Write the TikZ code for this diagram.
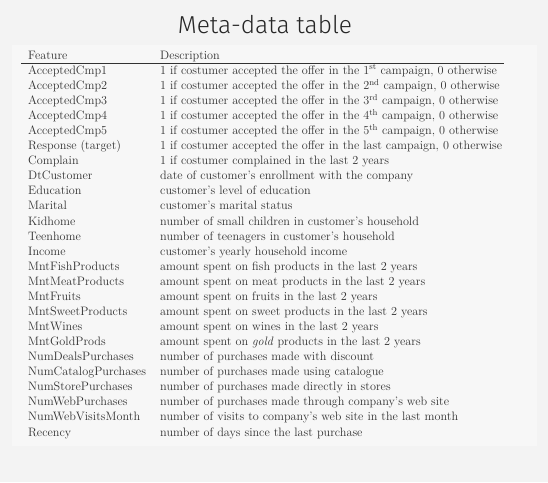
\documentclass[tikz,border=0pt]{standalone}
\usepackage{fontspec}
\newfontfamily\titlefont{Fira Sans Light}
\usepackage{tikz}
\usetikzlibrary{positioning}

\definecolor{slidebg}{RGB}{243,243,243}
\definecolor{tablebg}{RGB}{247,247,247}
\definecolor{ink}{RGB}{50,50,50}

\tikzset{
  feat/.style={anchor=base west, inner sep=0pt, text=ink, font=\fontsize{12.2}{15}\selectfont},
  desc/.style={feat},
}

\begin{document}
\begin{tikzpicture}[x=1pt, y=-1pt]
  \useasboundingbox (0,0) rectangle (548,482);
  \fill[slidebg] (0,0) rectangle (548,482);
  \fill[tablebg] (11.7,45) rectangle (536.7,446);

  \node (title) [anchor=base, inner sep=0pt, text=black!85, font=\titlefont\fontsize{24.5}{28}\selectfont] at (265,33.3) {Meta-data table};

  % header
  \node (feathead) [feat] at (28,59) {Feature};
  \node (deschead) [desc] at (160,59) {Description};
  \coordinate (ruleL) at (21,63.3);
  \coordinate (ruleR) at (504,63.3);
  \draw[ink, line width=1pt] (ruleL) -- (ruleR);

  % rows
  \foreach \feature/\descr [count=\i] in {
    {AcceptedCmp1}/{1 if costumer accepted the offer in the 1\textsuperscript{st} campaign, 0 otherwise},
    {AcceptedCmp2}/{1 if costumer accepted the offer in the 2\textsuperscript{nd} campaign, 0 otherwise},
    {AcceptedCmp3}/{1 if costumer accepted the offer in the 3\textsuperscript{rd} campaign, 0 otherwise},
    {AcceptedCmp4}/{1 if costumer accepted the offer in the 4\textsuperscript{th} campaign, 0 otherwise},
    {AcceptedCmp5}/{1 if costumer accepted the offer in the 5\textsuperscript{th} campaign, 0 otherwise},
    {Response (target)}/{1 if costumer accepted the offer in the last campaign, 0 otherwise},
    {Complain}/{1 if costumer complained in the last 2 years},
    {DtCustomer}/{date of customer's enrollment with the company},
    {Education}/{customer's level of education},
    {Marital}/{customer's marital status},
    {Kidhome}/{number of small children in customer's household},
    {Teenhome}/{number of teenagers in customer's household},
    {Income}/{customer's yearly household income},
    {MntFishProducts}/{amount spent on fish products in the last 2 years},
    {MntMeatProducts}/{amount spent on meat products in the last 2 years},
    {MntFruits}/{amount spent on fruits in the last 2 years},
    {MntSweetProducts}/{amount spent on sweet products in the last 2 years},
    {MntWines}/{amount spent on wines in the last 2 years},
    {MntGoldProds}/{amount spent on \textit{gold} products in the last 2 years},
    {NumDealsPurchases}/{number of purchases made with discount},
    {NumCatalogPurchases}/{number of purchases made using catalogue},
    {NumStorePurchases}/{number of purchases made directly in stores},
    {NumWebPurchases}/{number of purchases made through company's web site},
    {NumWebVisitsMonth}/{number of visits to company's web site in the last month},
    {Recency}/{number of days since the last purchase}}
  {
    \node (f\i) [feat] at (28,59.25+15.07*\i) {\feature};
    \node (d\i) [desc] at (160,59.25+15.07*\i) {\descr};
  }
\end{tikzpicture}
\end{document}
